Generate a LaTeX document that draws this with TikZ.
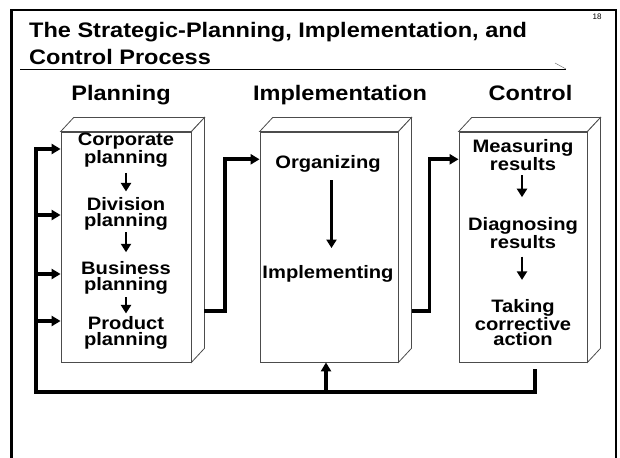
\documentclass[tikz,border=0pt]{standalone}
\usepackage{fontspec}
\setmainfont{Liberation Sans}
\newfontfamily\slidefont[FakeStretch=1.12]{Liberation Sans}
\usetikzlibrary{arrows.meta}

% draws the top and right faces of a block whose front face is node #1
\newcommand\blockfaces[1]{%
  \draw[face] (#1.north west) -- ++(13,-14) -- ([shift={(13,-14)}]#1.north east) -- (#1.north east) -- cycle;
  \draw[face] (#1.north east) -- ++(13,-14) -- ([shift={(13,-14)}]#1.south east) -- (#1.south east) -- cycle;
}

\begin{document}
\begin{tikzpicture}[x=1pt,y=-1pt,
  titletext/.style={font=\slidefont\bfseries\fontsize{21}{24}\selectfont, inner sep=0, anchor=base west},
  head/.style={font=\slidefont\bfseries\fontsize{21}{24}\selectfont, inner sep=0, anchor=base},
  item/.style={font=\slidefont\bfseries\fontsize{18}{16}\selectfont, inner sep=0, align=center, anchor=base},
  ctrlitem/.style={item, font=\slidefont\bfseries\fontsize{18}{15}\selectfont},
  face/.style={draw=black!70, line width=0.8pt, fill=white},
  front/.style={face, rectangle, minimum height=230pt, inner sep=0},
  steparrow/.style={line width=2.8pt, -{Triangle[width=10pt,length=8.5pt]}},
  flow/.style={line width=3.6pt, line join=miter, -{Triangle[width=10pt,length=9pt]}},
  flowline/.style={line width=3.6pt, line join=miter},
]
\useasboundingbox (0,0) rectangle (620,457);

% slide frame
\draw[line width=2.2pt] (11.5,458) -- (11.5,10) -- (616,10) -- (616,458);
\node[font=\fontsize{8}{8}\selectfont, inner sep=0] (pagenum) at (597,17) {18};

% title
\node[titletext] (t1) at (29,38) {The Strategic-Planning, Implementation, and};
\node[titletext] (t2) at (29,65) {Control Process};
\draw[line width=1.1pt] (20,69.3) -- (566,69.3);
\draw[black!55, line width=0.5pt] (555,63) -- (566,69);

% column headings
\node[head] (hplan) at (121,101) {Planning};
\node[head] (himpl) at (340,101) {Implementation};
\node[head] (hctrl) at (530.5,101) {Control};

% the three blocks
\node[front, minimum width=130pt] (pb) at (126,247) {};
\blockfaces{pb}
\node[front, minimum width=138pt] (ib) at (329,247) {};
\blockfaces{ib}
\node[front, minimum width=128pt] (cb) at (523,247) {};
\blockfaces{cb}

% planning steps (placed by the baseline of their last line)
\node[item] (corp) at (126,163.3) {Corporate\\planning};
\node[item] (div)  at (126,226.7) {Division\\planning};
\node[item] (bus)  at (126,290)   {Business\\planning};
\node[item] (prod) at (126,345.7) {Product\\planning};
\draw[steparrow, shorten <=5.5pt, shorten >=6pt] (corp) -- (div);
\draw[steparrow, shorten <=1.5pt, shorten >=8.5pt] (div) -- (bus);
\draw[steparrow, shorten <=3pt, shorten >=3pt] (bus) -- (prod);

% implementation steps
\node[item] (org)  at (328,168.3) {Organizing};
\node[item] (impl) at (328,278.3) {Implementing};
\draw[steparrow, shorten <=8pt, shorten >=17pt] ([xshift=3.5pt]org.south) -- ([xshift=3.5pt]impl.north);

% control steps
\node[ctrlitem] (meas) at (523,170)   {Measuring\\results};
\node[ctrlitem] (diag) at (523,248.3) {Diagnosing\\results};
\node[ctrlitem] (take) at (523,345)   {Taking\\corrective\\action};
\draw[steparrow, shorten <=5pt, shorten >=20pt] ([xshift=-1pt]meas.south) -- ([xshift=-1pt]diag.north);
\draw[steparrow, shorten <=8pt, shorten >=19pt] ([xshift=-1pt]diag.south) -- ([xshift=-1pt]take.north);

% links between the blocks
\coordinate (pout) at (204,311);
\coordinate (iout) at (412,311);
\draw[flow] (pout) -- ++(21,0) |- (ib.west |- 0,159.3);
\draw[flow] (iout) -- ++(17.5,0) |- (cb.west |- 0,159.3);

% feedback loop from control back to planning and implementation
\coordinate (cout) at ([xshift=12pt,yshift=-7pt]cb.south);
\coordinate (loopR) at (535,392);
\coordinate (loopL) at (36,392);
\coordinate (loopT) at (36,147.5);
\coordinate (up) at (326,392);
\draw[flowline] (cout) -- (loopR) -- (loopL) -- (loopT);
\coordinate (a1) at (36,149);
\coordinate (a2) at (36,215);
\coordinate (a3) at (36,274);
\coordinate (a4) at (36,321);
\foreach \a in {a1,a2,a3,a4}
  \draw[flow] (\a) -- (\a -| pb.west);
\draw[flow] (up) -- (up |- ib.south);
\end{tikzpicture}
\end{document}
